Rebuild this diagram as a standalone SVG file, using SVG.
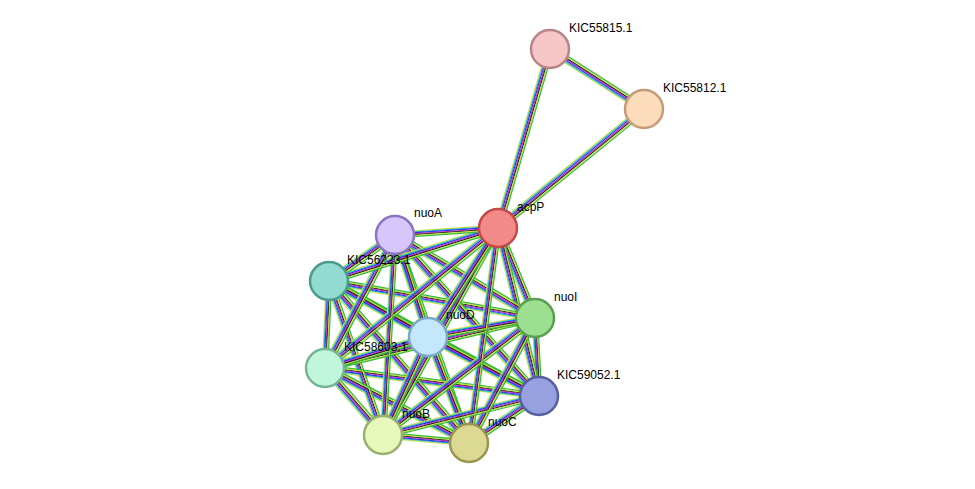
<svg xmlns="http://www.w3.org/2000/svg" xmlns:xlink="http://www.w3.org/1999/xlink" width="975" height="489" viewBox="0 0 975 489">
<style>
.n{stroke-width:2.5}
.l{font-family:"Liberation Sans",Arial,sans-serif;font-size:12px;fill:#000}
#E use{fill:none;stroke-width:1.2}
</style>
<defs>
<path id="g1" d="M498,228L535,318M498,228L539,396M395,235L535,318M395,235L428,337M395,235L539,396M395,235L469,443M329,281L535,318M329,281L428,337M329,281L539,396M329,281L383,435M329,281L469,443M535,318L539,396M428,337L539,396M428,337L469,443M325,368L539,396M325,368L383,435M325,368L469,443M383,435L469,443M550,49L644,109"/>
<path id="g2" d="M498,228L395,235M498,228L329,281M498,228L428,337M498,228L325,368M498,228L383,435M498,228L469,443M395,235L329,281M395,235L325,368M395,235L383,435M329,281L325,368M535,318L428,337M535,318L325,368M535,318L383,435M535,318L469,443M428,337L325,368M428,337L383,435M539,396L383,435M539,396L469,443M498,228L550,49M498,228L644,109"/>
</defs>
<rect width="975" height="489" fill="#fff"/>
<g id="E">
<use xlink:href="#g1" stroke="#c8e04a" transform="translate(-2.6,2.6)"/>
<use xlink:href="#g1" stroke="#22b8c8" transform="translate(-1.7,1.7)"/>
<use xlink:href="#g1" stroke="#3333ee" transform="translate(-0.85,0.85)"/>
<use xlink:href="#g1" stroke="#cc33cc" transform="translate(0,0)"/>
<use xlink:href="#g1" stroke="#222" transform="translate(0.85,-0.85)"/>
<use xlink:href="#g1" stroke="#c8e04a" transform="translate(1.7,-1.7)"/>
<use xlink:href="#g1" stroke="#33bb33" transform="translate(2.6,-2.6)"/>
<use xlink:href="#g2" stroke="#c8e04a" transform="translate(-2.6,-2.6)"/>
<use xlink:href="#g2" stroke="#22b8c8" transform="translate(-1.7,-1.7)"/>
<use xlink:href="#g2" stroke="#3333ee" transform="translate(-0.85,-0.85)"/>
<use xlink:href="#g2" stroke="#cc33cc" transform="translate(0,0)"/>
<use xlink:href="#g2" stroke="#222" transform="translate(0.85,0.85)"/>
<use xlink:href="#g2" stroke="#c8e04a" transform="translate(1.7,1.7)"/>
<use xlink:href="#g2" stroke="#33bb33" transform="translate(2.6,2.6)"/>
</g>
<g id="KIC55815.1"><circle class="n" cx="550" cy="49" r="19" fill="#f7c6c6" stroke="#b88585"/><text class="l" x="569" y="32">KIC55815.1</text></g>
<g id="KIC55812.1"><circle class="n" cx="644" cy="109" r="19" fill="#fddcbb" stroke="#c59c78"/><text class="l" x="663" y="92">KIC55812.1</text></g>
<g id="acpP"><circle class="n" cx="498" cy="228" r="19" fill="#f28a8a" stroke="#c44848"/><text class="l" x="517" y="211">acpP</text></g>
<g id="nuoA"><circle class="n" cx="395" cy="235" r="19" fill="#d6c6fa" stroke="#8c74c2"/><text class="l" x="414" y="217">nuoA</text></g>
<g id="KIC56223.1"><circle class="n" cx="329" cy="281" r="19" fill="#92dbd1" stroke="#4a9a8e"/><text class="l" x="347" y="264">KIC56223.1</text></g>
<g id="nuoI"><circle class="n" cx="535" cy="318" r="19" fill="#9ddf90" stroke="#5a9f50"/><text class="l" x="554" y="301">nuoI</text></g>
<g id="nuoD"><circle class="n" cx="428" cy="337" r="19" fill="#c4e7fb" stroke="#7aa9c9"/><text class="l" x="446" y="319">nuoD</text></g>
<g id="KIC58603.1"><circle class="n" cx="325" cy="368" r="19" fill="#c0f7da" stroke="#76b494"/><text class="l" x="344" y="351">KIC58603.1</text></g>
<g id="KIC59052.1"><circle class="n" cx="539" cy="396" r="19" fill="#98a1e0" stroke="#5560a0"/><text class="l" x="557" y="379">KIC59052.1</text></g>
<g id="nuoB"><circle class="n" cx="383" cy="435" r="19" fill="#e6f8ba" stroke="#9ab070"/><text class="l" x="402" y="418">nuoB</text></g>
<g id="nuoC"><circle class="n" cx="469" cy="443" r="19" fill="#dcd992" stroke="#9a9550"/><text class="l" x="488" y="426">nuoC</text></g>
</svg>
